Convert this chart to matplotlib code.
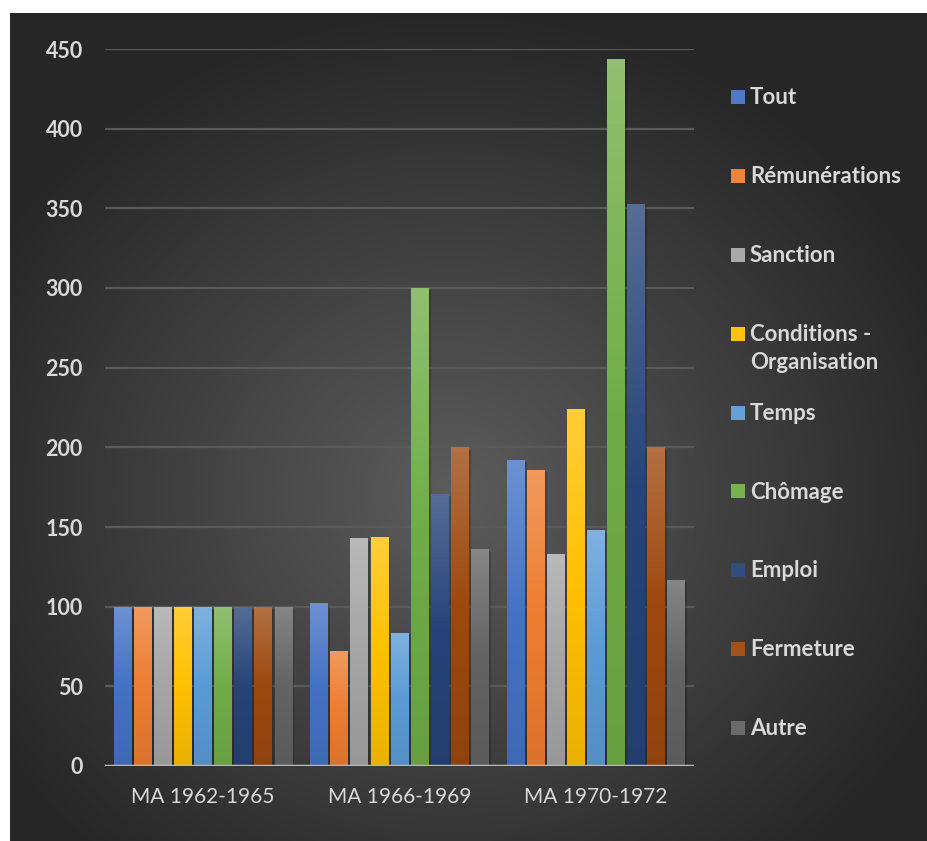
import numpy as np
import matplotlib
matplotlib.use("Agg")
from matplotlib import pyplot as plt
from matplotlib.patches import Rectangle
from matplotlib.colors import to_rgb

plt.rcParams['font.family'] = ['Lato', 'DejaVu Sans']

periods = ["MA 1962-1965", "MA 1966-1969", "MA 1970-1972"]
series = ["Tout", "Rémunérations", "Sanction", "Conditions -\nOrganisation", "Temps",
          "Chômage", "Emploi", "Fermeture", "Autre"]
tout = [100, 102, 192]
remunerations = [100, 72, 186]
sanction = [100, 143, 133]
conditions = [100, 144, 224]
temps = [100, 83.5, 148]
chomage = [100, 300, 444]
emploi = [100, 171, 353]
fermeture = [100, 200, 200]
autre = [100, 136, 117]
values = [tout, remunerations, sanction, conditions, temps, chomage, emploi, fermeture, autre]
colors = ["#4472C4", "#ED7D31", "#A5A5A5", "#FFC000", "#5B9BD5",
          "#70AD47", "#264478", "#9E480E", "#636363"]

W, H = 928, 841
fig = plt.figure(figsize=(W / 100, H / 100), dpi=100)
fig.patch.set_facecolor("white")

# dark radial background (inside white border)
bg = fig.add_axes([10 / W, 0, 1 - 10 / W, 1 - 13 / H], zorder=-10)
yy, xx = np.mgrid[0:1:400j, 0:1:400j]
r = np.sqrt(((xx - 0.48) / 0.75) ** 2 + ((yy - 0.42) / 0.75) ** 2)
v = np.clip(0.36 - 0.27 * r, 0.15, 0.36)
bg.imshow(np.dstack([v, v, v]), extent=[0, 1, 0, 1], aspect="auto", origin="lower")
bg.set_axis_off()

ax = fig.add_axes([105 / W, 1 - 766 / H, (694 - 105) / W, (766 - 49) / H])
ax.patch.set_alpha(0)
for s in ax.spines.values():
    s.set_visible(False)

txt = "#d9d9d9"
x = np.arange(len(periods))
nser = len(series)
slot = 0.92 / nser
bw = slot * 0.885


def shade(c, f):
    c = np.array(to_rgb(c))
    if f > 0:
        return c + (1 - c) * f
    return c * (1 + f)


grad_t = np.linspace(0, 1, 64)[:, None]
for i, (vals, c) in enumerate(zip(values, colors)):
    pos = x - 0.46 + slot * (i + 0.5)
    top = shade(c, 0.22)
    mid = shade(c, 0.0)
    bot = shade(c, -0.08)
    g = np.where(grad_t < 0.5,
                 top + (mid - top) * (grad_t / 0.5),
                 mid + (bot - mid) * ((grad_t - 0.5) / 0.5))
    img = np.repeat(g.reshape(64, 1, 3), 2, axis=1)
    bars = ax.bar(pos, vals, bw, color=c, zorder=3, linewidth=0)
    for b, val in zip(bars, vals):
        # soft shadow
        ax.add_patch(Rectangle((b.get_x() + bw * 0.12, 0), bw, val - 1.5,
                               color="black", alpha=0.2, zorder=2, linewidth=0))
        im = ax.imshow(img, extent=[b.get_x(), b.get_x() + bw, 0, val],
                       aspect="auto", zorder=4, origin="upper")
        im.set_clip_path(b)

ax.set_xlim(-0.5, 2.5)
ax.set_ylim(0, 450)
ax.set_yticks(np.arange(0, 451, 50))
ax.yaxis.grid(True, color="#5a5a5a", linewidth=1.6, zorder=0)
ax.set_axisbelow(True)
ax.axhline(0, color="#b8b8b8", linewidth=2.5, zorder=5)
ax.set_xticks(x)
ax.set_xticklabels(periods, fontsize=15, color=txt)
ax.tick_params(axis="x", length=0, pad=15)
ax.tick_params(axis="y", length=0, pad=16, labelcolor=txt, labelsize=15.5)
for lab in ax.get_yticklabels():
    lab.set_fontweight("bold")

# legend on the right, evenly spread like the original
y0, step = 97, 78.9
for i, (name, c) in enumerate(zip(series, colors)):
    yc = y0 + i * step
    fig.patches.append(Rectangle((731 / W, 1 - (yc + 7) / H), 14 / W, 14 / H,
                                 transform=fig.transFigure, figure=fig,
                                 facecolor=shade(c, 0.05), linewidth=0))
    fig.text(750 / W, 1 - (yc - 10) / H, name, color=txt, fontsize=16,
             fontweight="bold", va="top", ha="left", linespacing=1.45)

fig.savefig("out.png", dpi=100, facecolor=fig.get_facecolor())
